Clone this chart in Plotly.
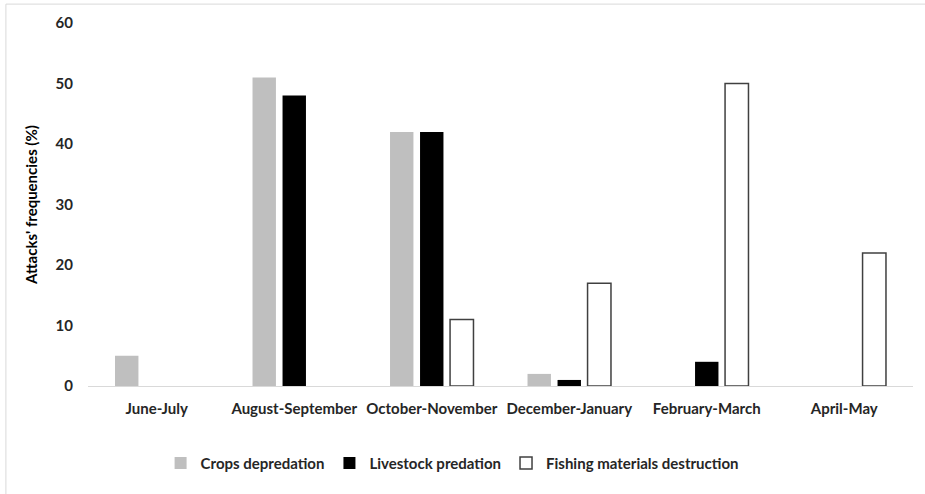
import plotly.graph_objects as go

categories = ["June-July", "August-September", "October-November",
              "December-January", "February-March", "April-May"]
crops = [5, 51, 42, 2, 0, 0]
livestock = [0, 48, 42, 1, 4, 0]
fishing = [0, 0, 11, 17, 50, 22]
series_names = ["Crops depredation", "Livestock predation", "Fishing materials destruction"]
y_ticks = [0, 10, 20, 30, 40, 50, 60]

FONT = "Lato"

fig = go.Figure()
fig.add_trace(go.Bar(x=categories, y=crops, name=series_names[0],
                     marker=dict(color="#bfbfbf", line=dict(width=0))))
fig.add_trace(go.Bar(x=categories, y=livestock, name=series_names[1],
                     marker=dict(color="#000000", line=dict(width=0))))
fig.add_trace(go.Bar(x=categories, y=[v if v else None for v in fishing], name=series_names[2],
                     marker=dict(color="#ffffff", line=dict(color="#404040", width=1.5))))

fig.update_layout(
    width=925, height=494,
    margin=dict(l=88, r=12, t=23, b=108),
    paper_bgcolor="white", plot_bgcolor="white",
    barmode="group", bargap=0.345, bargroupgap=0.22,
    font=dict(family=FONT, size=15, color="#262626"),
    showlegend=True,
    legend=dict(orientation="h", x=0.088, xanchor="left", y=-0.213, yanchor="middle",
                font=dict(family=FONT, size=15, color="#262626", weight="bold"),
                traceorder="normal", itemwidth=30),
    xaxis=dict(showline=True, linecolor="#d9d9d9", linewidth=1, showgrid=False,
               ticks="", ticklabelstandoff=9,
               tickfont=dict(family=FONT, size=15, weight="bold", color="#262626"),
               fixedrange=True),
    yaxis=dict(range=[0, 60], tickvals=y_ticks, showgrid=False, zeroline=False,
               showline=False, ticks="", ticklabelstandoff=14,
               tickfont=dict(family=FONT, size=15, weight="bold", color="#262626"),
               title=dict(text="Attacks' frequencies (%)", standoff=14,
                          font=dict(family=FONT, size=15, weight="bold", color="#000000"))),
    shapes=[
        dict(type="line", xref="paper", yref="paper", x0=-0.0995, x1=1.02, y0=1.052, y1=1.052,
             line=dict(color="#d9d9d9", width=1)),
        dict(type="line", xref="paper", yref="paper", x0=-0.0995, x1=-0.0995, y0=1.052, y1=-0.3,
             line=dict(color="#d9d9d9", width=1)),
    ],
)

fig.write_html("out.html", config={"displayModeBar": False},
               post_script="document.body.style.margin='0';document.body.style.padding='0';")
